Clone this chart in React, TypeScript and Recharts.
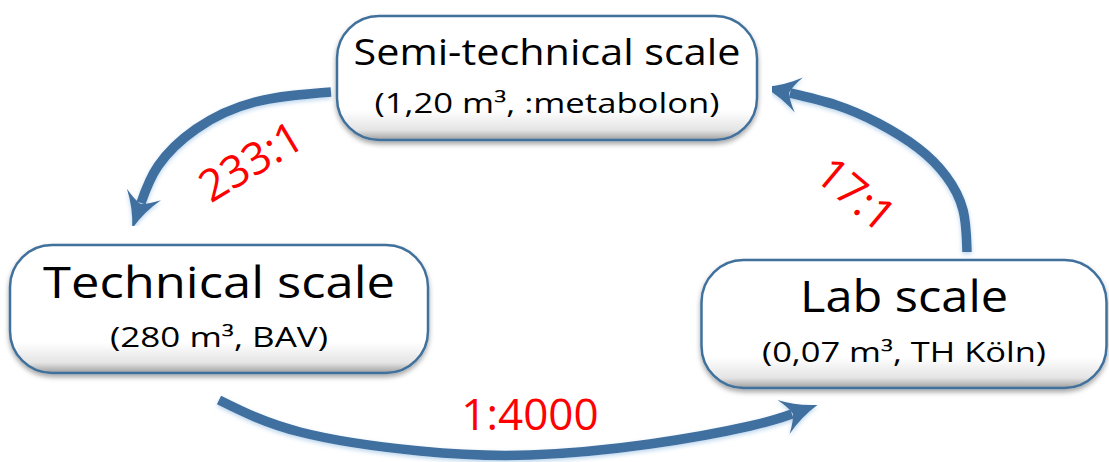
import { ComposedChart, XAxis, YAxis, Scatter, Line } from 'recharts';

// diagram space == pixel space (x to the right, y downwards)
const W = 1109;
const H = 462;

const nodes = [
  { x: 547, y: 78, title: 'Semi-technical scale', sub: '(1,20 m³, :metabolon)' },
  { x: 219, y: 309, title: 'Technical scale', sub: '(280 m³, BAV)' },
  { x: 904, y: 324, title: 'Lab scale', sub: '(0,07 m³, TH Köln)' },
];

const arrow233 = [
  { x: 331, y: 92 },
  { x: 255, y: 102 },
  { x: 196, y: 129 },
  { x: 158, y: 166 },
  { x: 141, y: 203 },
];

const arrow17 = [
  { x: 967, y: 252 },
  { x: 963, y: 210 },
  { x: 946, y: 176 },
  { x: 918, y: 148 },
  { x: 878, y: 123 },
  { x: 836, y: 105 },
  { x: 790, y: 93 },
];

const arrow4000 = [
  { x: 219, y: 400 },
  { x: 300, y: 432 },
  { x: 420, y: 451 },
  { x: 530, y: 455 },
  { x: 650, y: 444 },
  { x: 750, y: 426 },
  { x: 792, y: 414 },
];

const ratios = [
  { x: 250, y: 160, text: '233:1', angle: -31 },
  { x: 857, y: 193, text: '17:1', angle: 40 },
  { x: 530, y: 413, text: '1:4000', angle: 0 },
];

// box and text layout per node title
const BOX: Record<string, any> = {
  'Semi-technical scale': { w: 420, h: 124, tSize: 36, tLen: 387, tDy: -13, sSize: 27, sLen: 345, sDy: 35 },
  'Technical scale': { w: 418, h: 128, tSize: 44, tLen: 352, tDy: -11, sSize: 27, sLen: 218, sDy: 38 },
  'Lab scale': { w: 405, h: 128, tSize: 43, tLen: 208, tDy: -12, sSize: 27, sLen: 284, sDy: 38 },
};

const BLUE = '#41709f';
const FONT = '"Open Sans", "Noto Sans", sans-serif';

const NodeBox = (props: any) => {
  const { cx, cy, payload } = props;
  const b = BOX[payload.title];
  return (
    <g>
      <rect
        x={cx - b.w / 2}
        y={cy - b.h / 2}
        width={b.w}
        height={b.h}
        rx={42}
        ry={42}
        fill="url(#boxFill)"
        stroke="#41719c"
        strokeWidth={2.5}
        filter="url(#boxShadow)"
      />
      <text x={cx} y={cy + b.tDy} textAnchor="middle" fontFamily={FONT} fontSize={b.tSize} fill="#000"
        textLength={b.tLen} lengthAdjust="spacingAndGlyphs">
        {payload.title}
      </text>
      <text x={cx} y={cy + b.sDy} textAnchor="middle" fontFamily={FONT} fontSize={b.sSize} fill="#000"
        textLength={b.sLen} lengthAdjust="spacingAndGlyphs">
        {payload.sub}
      </text>
    </g>
  );
};

const RatioLabel = (props: any) => {
  const { cx, cy, payload } = props;
  return (
    <text
      x={cx}
      y={cy}
      textAnchor="middle"
      dominantBaseline="central"
      fontFamily={FONT}
      fontSize={44}
      fill="#ff0000"
      transform={`rotate(${payload.angle}, ${cx}, ${cy})`}
    >
      {payload.text}
    </text>
  );
};

export default function App() {
  return (
    <div style={{ position: 'absolute', left: 0, top: 0, width: W, height: H, background: '#fff' }}>
      <style>{`.arrow path { filter: url(#arrowGlow); }`}</style>
      <svg width={0} height={0} style={{ position: 'absolute' }}>
        <defs>
          <linearGradient id="boxFill" x1="0" y1="0" x2="0" y2="1">
            <stop offset="0" stopColor="#ffffff" />
            <stop offset="0.76" stopColor="#ffffff" />
            <stop offset="0.92" stopColor="#e4e4e4" />
            <stop offset="1" stopColor="#a0a0a0" />
          </linearGradient>
          <filter id="boxShadow" x="-10%" y="-20%" width="120%" height="150%">
            <feDropShadow dx="0" dy="3" stdDeviation="2.5" floodColor="#000" floodOpacity="0.35" />
          </filter>
          <filter id="arrowGlow" x="-10%" y="-10%" width="120%" height="130%">
            <feDropShadow dx="0" dy="2" stdDeviation="2" floodColor="#9dc3e6" floodOpacity="0.7" />
          </filter>
          <marker id="head" markerUnits="userSpaceOnUse" markerWidth={40} markerHeight={40}
            viewBox="0 0 40 40" refX={9} refY={20} orient="auto">
            <path d="M0,2 Q16,14 36,20 Q16,26 0,38 Q8,27 10,20 Q8,13 0,2 Z" fill={BLUE} />
          </marker>
        </defs>
      </svg>
      <ComposedChart width={W} height={H} margin={{ top: 0, right: 0, bottom: 0, left: 0 }}>
        <XAxis type="number" dataKey="x" domain={[0, W]} hide allowDataOverflow />
        <YAxis type="number" domain={[0, H]} reversed hide allowDataOverflow />
        <Line data={arrow233} dataKey="y" type="natural" stroke={BLUE} strokeWidth={9.5} dot={false}
          activeDot={false} markerEnd="url(#head)" className="arrow" isAnimationActive={false} />
        <Line data={arrow17} dataKey="y" type="natural" stroke={BLUE} strokeWidth={9.5} dot={false}
          activeDot={false} markerEnd="url(#head)" className="arrow" isAnimationActive={false} />
        <Line data={arrow4000} dataKey="y" type="natural" stroke={BLUE} strokeWidth={9.5} dot={false}
          activeDot={false} markerEnd="url(#head)" className="arrow" isAnimationActive={false} />
        <Scatter data={nodes} dataKey="y" shape={NodeBox} activeShape={false} isAnimationActive={false} />
        <Scatter data={ratios} dataKey="y" shape={RatioLabel} activeShape={false} isAnimationActive={false} />
      </ComposedChart>
    </div>
  );
}
